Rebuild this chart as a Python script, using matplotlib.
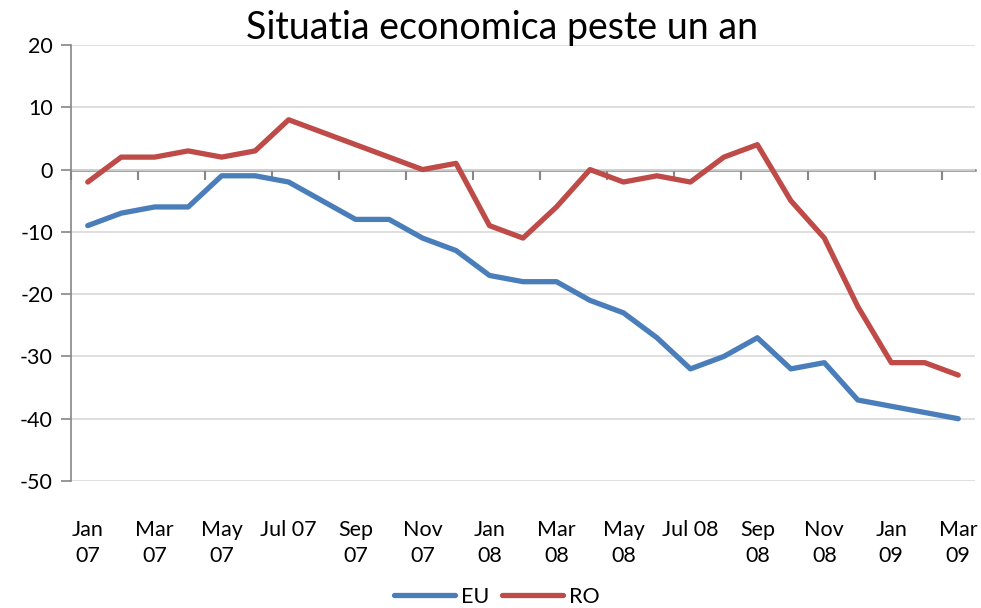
import numpy as np
import matplotlib
matplotlib.use("Agg")
import matplotlib.pyplot as plt

plt.rcParams['font.family'] = ['Lato', 'DejaVu Sans']
plt.rcParams['axes.unicode_minus'] = False

# Monthly values, Jan 07 - Mar 09
months = ["Jan\n07", "Feb\n07", "Mar\n07", "Apr\n07", "May\n07", "Jun\n07", "Jul 07", "Aug\n07", "Sep\n07",
          "Oct\n07", "Nov\n07", "Dec\n07", "Jan\n08", "Feb\n08", "Mar\n08", "Apr\n08", "May\n08", "Jun\n08",
          "Jul 08", "Aug\n08", "Sep\n08", "Oct\n08", "Nov\n08", "Dec\n08", "Jan\n09", "Feb\n09", "Mar\n09"]
eu = [-9, -7, -6, -6, -1, -1, -2, -5, -8, -8, -11, -13, -17, -18, -18, -21, -23, -27,
      -32, -30, -27, -32, -31, -37, -38, -39, -40]
ro = [-2, 2, 2, 3, 2, 3, 8, 6, 4, 2, 0, 1, -9, -11, -6, 0, -2, -1,
      -2, 2, 4, -5, -11, -22, -31, -31, -33]
y_ticks = [20, 10, 0, -10, -20, -30, -40, -50]

x = np.arange(len(months))
ymin, ymax = -50, 20

fig = plt.figure(figsize=(9.81, 6.08), dpi=100)
ax = fig.add_axes([71 / 981, 1 - 481 / 608, 904 / 981, 436 / 608])

ax.plot(x, eu, color="#4A7EBB", linewidth=3.8, label="EU", solid_capstyle="round", zorder=3)
ax.plot(x, ro, color="#BE4B48", linewidth=3.8, label="RO", solid_capstyle="round", zorder=3)

ax.set_xlim(-0.5, len(months) - 0.5)
ax.set_ylim(ymin, ymax)
ax.set_yticks(y_ticks)
ax.grid(axis="y", color="#d9d9d9", linewidth=1.2)
ax.set_axisbelow(True)
ax.tick_params(axis="y", direction="out", length=7, width=1.2, color="#868686",
               labelsize=15.5, pad=6)
ax.set_xticks(x[::2])
ax.set_xticklabels(months[::2], linespacing=1.4)
ax.tick_params(axis="x", length=0, labelsize=15.5, pad=28)

for s in ["top", "right", "bottom"]:
    ax.spines[s].set_visible(False)
ax.spines["left"].set_color("#868686")
ax.spines["left"].set_linewidth(1.2)

# category axis crosses at zero, ticks between categories (pointing down)
sec = ax.secondary_xaxis((0 - ymin) / (ymax - ymin))
sec.set_alignment("bottom")
sec.set_xticks(np.arange(-0.5, len(months), 2))
sec.set_xticklabels([])
sec.tick_params(direction="out", length=7, width=1.5, color="#868686")
sec.spines["bottom"].set_color("#868686")
sec.spines["bottom"].set_linewidth(1.8)
sec.spines["top"].set_visible(False)

fig.text(502 / 981, 1 - 28 / 608, "Situatia economica peste un an", ha="center", va="center", fontsize=27)

fig.legend(loc="center", bbox_to_anchor=(497 / 981, 1 - 597 / 608), ncol=2, frameon=False,
           fontsize=15.5, handlelength=2.8, columnspacing=0.6, handletextpad=0.3)

fig.savefig("out.png", dpi=100)
